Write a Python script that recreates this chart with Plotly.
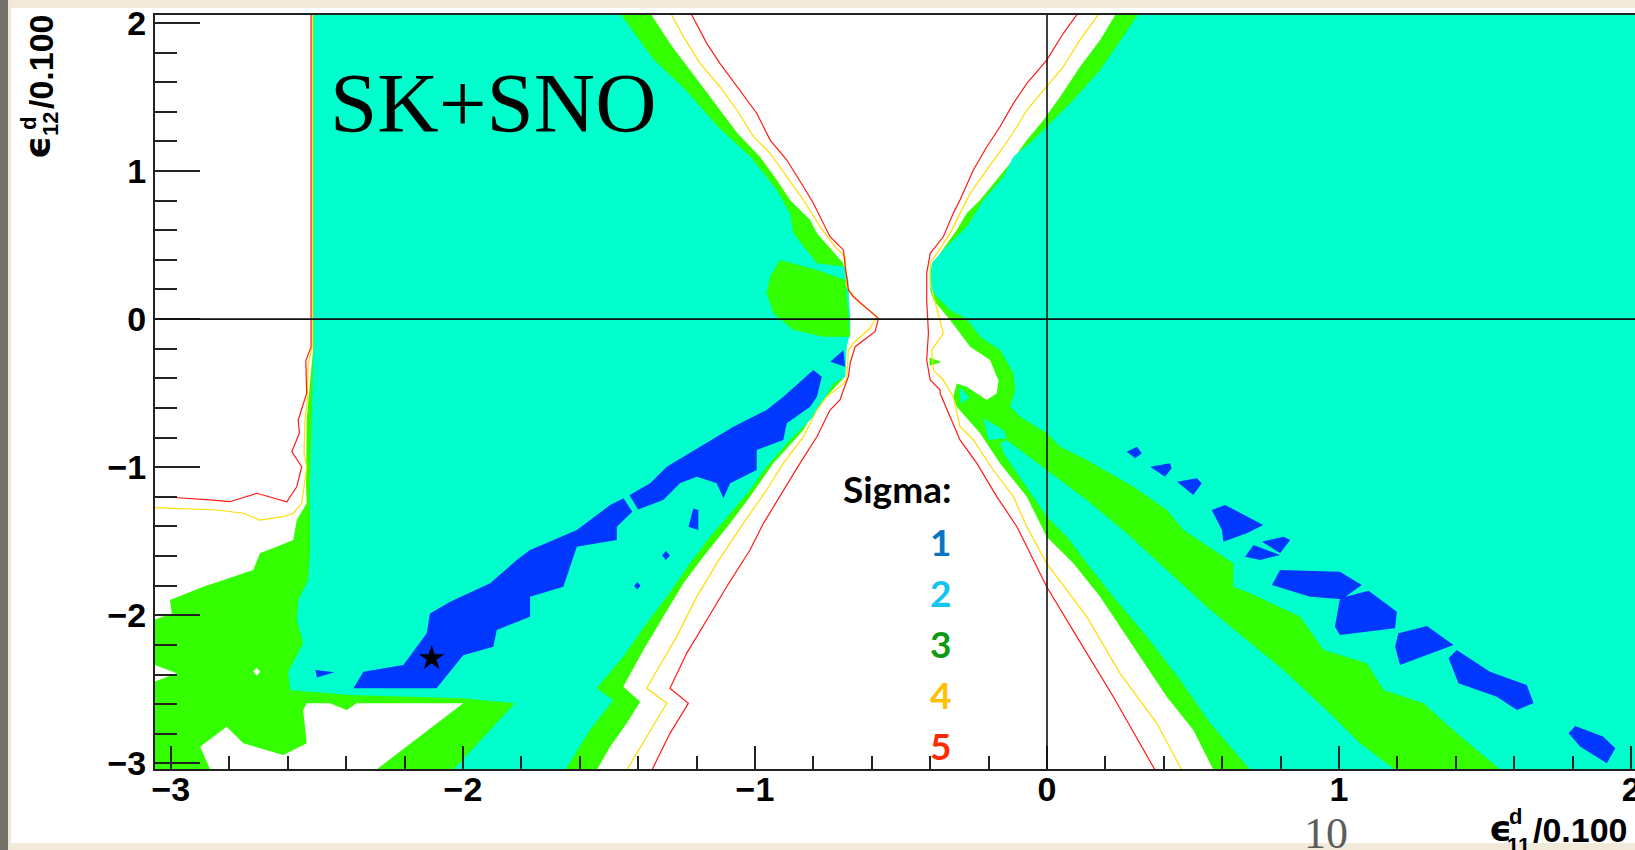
import plotly.graph_objects as go

# ---------------- contour data (axis units: eps11/0.1 , eps12/0.1) ----------------
# 3-sigma allowed region is the green background; white = excluded (>3 sigma)
white_upper_left_x = [-3.1, -2.513, -2.513, -2.535, -2.537, -2.535, -2.569, -2.581, -2.638, -2.695, -2.718, -2.889, -3.003, -2.997, -3.1]
white_upper_left_y = [2.1, 2.1, -0.2, -0.681, -1.132, -1.244, -1.357, -1.492, -1.537, -1.581, -1.694, -1.807, -1.897, -1.987, -2.06]

white_notch_x = [-3.1, -2.98, -3.1]
white_notch_y = [-2.30, -2.392, -2.482]

white_dot_x = [-2.706, -2.694, -2.706, -2.718]
white_dot_y = [-2.354, -2.381, -2.408, -2.381]

white_bottom_x = [-2.852, -2.900, -2.809, -2.752, -2.615, -2.535, -2.547, -2.535, -2.455, -2.398, -2.364, -1.999, -2.335]
white_bottom_y = [-3.1, -2.887, -2.752, -2.864, -2.943, -2.864, -2.639, -2.594, -2.594, -2.639, -2.594, -2.594, -3.1]

hourglass_left_x = [-1.37, -1.283, -1.205, -1.128, -1.060, -0.983, -0.925, -0.880, -0.811, -0.788, -0.697, -0.686, -0.674, -0.674, -0.686, -0.692, -0.788, -0.834, -0.937, -1.017, -1.085, -1.177, -1.245, -1.314, -1.382, -1.451, -1.393, -1.439, -1.496, -1.558]
hourglass_left_y = [2.1, 1.839, 1.637, 1.434, 1.255, 1.097, 0.939, 0.804, 0.669, 0.579, 0.377, 0.242, 0.016, -0.096, -0.163, -0.389, -0.591, -0.749, -0.974, -1.199, -1.379, -1.604, -1.784, -2.009, -2.234, -2.482, -2.583, -2.729, -2.887, -3.1]
hourglass_right_x = [0.584, 0.501, 0.41, 0.296, 0.182, 0.09, -0.001, -0.069, -0.161, -0.229, -0.309, -0.321, -0.309, -0.275, -0.206, -0.172, -0.166, -0.172, -0.195, -0.263, -0.332, -0.389, -0.400, -0.400, -0.366, -0.309, -0.275, -0.229, -0.172, -0.126, -0.069, -0.012, 0.045, 0.113, 0.182, 0.248]
hourglass_right_y = [-3.1, -2.774, -2.55, -2.212, -1.874, -1.649, -1.469, -1.199, -0.974, -0.771, -0.591, -0.524, -0.434, -0.456, -0.546, -0.501, -0.411, -0.389, -0.276, -0.186, -0.006, 0.129, 0.196, 0.332, 0.444, 0.602, 0.714, 0.804, 0.939, 1.052, 1.209, 1.344, 1.502, 1.704, 1.885, 2.1]

# 2-sigma regions (cyan)
cyan_left_x = [-2.511, -1.475, -1.345, -1.237, -1.127, -1.015, -0.925, -0.880, -0.868, -0.788, -0.691, -0.680, -0.674, -0.686, -0.691, -0.731, -0.800, -0.880, -0.960, -1.017, -1.074, -1.154, -1.222, -1.302, -1.371, -1.451, -1.542, -1.485, -1.565, -1.667, -2.06, -1.822, -2.0, -2.387, -2.592, -2.598, -2.547, -2.569, -2.564, -2.53, -2.524, -2.524, -2.518, -2.511]
cyan_left_y = [2.1, 2.1, 1.749, 1.547, 1.299, 1.097, 0.872, 0.714, 0.579, 0.377, 0.354, 0.264, -0.096, -0.186, -0.389, -0.434, -0.659, -0.816, -0.997, -1.154, -1.289, -1.469, -1.649, -1.874, -2.054, -2.280, -2.493, -2.572, -2.774, -3.1, -3.1, -2.594, -2.56, -2.538, -2.504, -2.381, -2.189, -2.032, -1.897, -1.762, -1.581, -1.132, -0.681, -0.2]

cyan_right_x = [0.327, 0.182, 0.09, 0.011, -0.047, -0.115, -0.149, -0.218, -0.275, -0.355, -0.395, -0.400, -0.332, -0.275, -0.229, -0.161, -0.115, -0.109, -0.126, -0.092, -0.001, 0.045, 0.136, 0.296, 0.410, 0.467, 0.638, 0.638, 0.696, 0.867, 0.947, 1.095, 1.152, 1.289, 1.403, 1.587, 2.1, 2.1]
cyan_right_y = [2.1, 1.682, 1.479, 1.322, 1.209, 1.097, 0.962, 0.804, 0.624, 0.467, 0.377, 0.196, 0.061, 0.0, -0.119, -0.209, -0.366, -0.479, -0.591, -0.659, -0.771, -0.862, -0.951, -1.132, -1.289, -1.424, -1.649, -1.807, -1.851, -2.009, -2.234, -2.324, -2.504, -2.594, -2.797, -3.1, -3.1, 2.1]

cyan_strip_x = [-0.16, -0.138, -0.001, 0.136, 0.273, 0.410, 0.547, 0.684, 0.810, 0.981, 1.072, 1.23, 0.72, 0.559, 0.456, 0.342, 0.227, 0.136, 0.068, -0.001, -0.103, -0.149]
cyan_strip_y = [-0.84, -0.816, -1.019, -1.221, -1.446, -1.694, -1.942, -2.167, -2.369, -2.685, -2.864, -3.1, -3.1, -2.729, -2.437, -2.144, -1.874, -1.649, -1.469, -1.334, -1.041, -0.906]

cyan_hole1_x = [-0.30, -0.265, -0.295]
cyan_hole1_y = [-0.46, -0.53, -0.57]
cyan_hole2_x = [-0.218, -0.149, -0.138, -0.2]
cyan_hole2_y = [-0.67, -0.749, -0.805, -0.816]

# 3-sigma pieces drawn on top of cyan
green_blob_x = [-0.914, -0.788, -0.691, -0.68, -0.674, -0.766, -0.868, -0.937, -0.960, -0.948]
green_blob_y = [0.399, 0.332, 0.264, 0.016, -0.119, -0.119, -0.074, 0.039, 0.174, 0.286]
green_tip_x = [-0.402, -0.362, -0.402]
green_tip_y = [-0.26, -0.29, -0.315]

# 1-sigma regions (blue)
blue_band_a_x = [-2.375, -2.341, -2.204, -2.124, -2.113, -2.044, -1.907, -1.816, -1.770, -1.610, -1.496, -1.45, -1.42, -1.473, -1.473, -1.610, -1.656, -1.770, -1.770, -1.884, -1.896, -1.999, -2.09]
blue_band_a_y = [-2.493, -2.381, -2.336, -2.122, -1.987, -1.908, -1.784, -1.627, -1.559, -1.424, -1.255, -1.21, -1.30, -1.402, -1.492, -1.537, -1.807, -1.874, -2.009, -2.099, -2.212, -2.27, -2.493]
blue_band_b_x = [-1.43, -1.359, -1.302, -1.188, -1.074, -0.960, -0.903, -0.8, -0.771, -0.788, -0.811, -0.891, -0.903, -0.994, -0.994, -1.085, -1.108, -1.131, -1.199, -1.257, -1.314, -1.40]
blue_band_b_y = [-1.19, -1.109, -0.997, -0.862, -0.727, -0.614, -0.524, -0.344, -0.389, -0.524, -0.591, -0.704, -0.816, -0.884, -1.019, -1.109, -1.210, -1.109, -1.064, -1.109, -1.221, -1.285]
blue_small_x = [[-0.742, -0.697, -0.691], [-1.211, -1.194, -1.194, -1.228], [-1.305, -1.291, -1.305, -1.318], [-1.403, -1.392, -1.403, -1.414], [-2.505, -2.44, -2.50]]
blue_small_y = [[-0.288, -0.209, -0.321], [-1.278, -1.289, -1.424, -1.402], [-1.564, -1.597, -1.626, -1.597], [-1.775, -1.80, -1.825, -1.80], [-2.37, -2.385, -2.42]]
blue_islands_x = [
    [0.273, 0.308, 0.325, 0.302],
    [0.353, 0.421, 0.427, 0.404],
    [0.445, 0.513, 0.530, 0.501],
    [0.564, 0.610, 0.741, 0.684, 0.604, 0.599],
    [0.736, 0.810, 0.833, 0.798],
    [0.678, 0.707, 0.798, 0.730],
    [0.798, 1.003, 1.078, 1.010, 0.901, 0.770],
    [1.003, 1.101, 1.198, 1.192, 1.003, 0.986],
    [1.203, 1.301, 1.392, 1.209, 1.192],
    [1.375, 1.403, 1.517, 1.643, 1.666, 1.609, 1.540, 1.409],
    [1.809, 1.905, 1.946, 1.917, 1.826, 1.786],
]
blue_islands_y = [
    [-0.895, -0.862, -0.906, -0.940],
    [-0.997, -0.974, -1.007, -1.064],
    [-1.098, -1.075, -1.109, -1.188],
    [-1.289, -1.255, -1.390, -1.446, -1.503, -1.424],
    [-1.503, -1.469, -1.492, -1.581],
    [-1.604, -1.525, -1.593, -1.627],
    [-1.694, -1.706, -1.795, -1.892, -1.874, -1.795],
    [-1.885, -1.834, -1.976, -2.088, -2.133, -2.077],
    [-2.122, -2.072, -2.201, -2.336, -2.212],
    [-2.29, -2.234, -2.381, -2.471, -2.594, -2.639, -2.550, -2.459],
    [-2.747, -2.820, -2.898, -2.999, -2.887, -2.797],
]

# 4-sigma (yellow) and 5-sigma (red) contour lines
red_vert_x = [-2.52, -2.52, -2.538, -2.535, -2.564, -2.56, -2.586, -2.552, -2.569, -2.603, -2.706, -2.798, -2.866, -3.003, -3.1]
red_vert_y = [2.1, -0.19, -0.28, -0.50, -0.681, -0.77, -0.895, -0.997, -1.132, -1.233, -1.176, -1.233, -1.221, -1.203, -1.2]
yel_vert_x = [-2.516, -2.516, -2.53, -2.533, -2.541, -2.544, -2.535, -2.552, -2.581, -2.615, -2.695, -2.752, -2.843, -3.1]
yel_vert_y = [2.1, -0.19, -0.3, -0.55, -0.681, -0.906, -0.997, -1.244, -1.311, -1.334, -1.357, -1.311, -1.289, -1.27]

red_left_x = [-1.229, -1.165, -1.120, -1.051, -0.994, -0.948, -0.891, -0.834, -0.800, -0.743, -0.697, -0.691, -0.680, -0.663, -0.617, -0.577, -0.589, -0.657, -0.674, -0.680, -0.697, -0.709, -0.743, -0.788, -0.846, -0.914, -0.971, -1.017, -1.097, -1.165, -1.234, -1.291, -1.228, -1.291, -1.353, -1.375]
red_left_y = [2.1, 1.862, 1.727, 1.547, 1.390, 1.209, 1.074, 0.894, 0.782, 0.556, 0.467, 0.354, 0.196, 0.151, 0.073, 0.005, -0.085, -0.186, -0.298, -0.389, -0.479, -0.546, -0.614, -0.794, -0.974, -1.199, -1.379, -1.559, -1.807, -2.032, -2.257, -2.493, -2.594, -2.797, -3.045, -3.1]
yel_left_x = [-1.298, -1.245, -1.188, -1.120, -1.062, -1.005, -0.948, -0.891, -0.834, -0.777, -0.726, -0.691, -0.686, -0.651, -0.583, -0.606, -0.663, -0.680, -0.686, -0.709, -0.754, -0.788, -0.834, -0.903, -0.960, -1.040, -1.131, -1.199, -1.268, -1.371, -1.302, -1.371, -1.439, -1.46]
yel_left_y = [2.1, 1.907, 1.727, 1.569, 1.412, 1.232, 1.120, 0.962, 0.804, 0.624, 0.489, 0.421, 0.219, 0.129, 0.016, -0.062, -0.163, -0.209, -0.411, -0.456, -0.524, -0.614, -0.794, -0.974, -1.154, -1.379, -1.649, -1.874, -2.144, -2.493, -2.594, -2.820, -3.045, -3.1]

red_right_x = [0.119, 0.056, -0.001, -0.069, -0.115, -0.161, -0.206, -0.252, -0.298, -0.321, -0.355, -0.400, -0.412, -0.412, -0.406, -0.412, -0.400, -0.366, -0.366, -0.298, -0.240, -0.172, -0.103, -0.001, 0.102, 0.227, 0.370, 0.39]
red_right_y = [2.1, 1.930, 1.749, 1.592, 1.457, 1.299, 1.164, 1.007, 0.804, 0.714, 0.556, 0.444, 0.309, 0.129, -0.096, -0.276, -0.411, -0.479, -0.501, -0.816, -0.974, -1.199, -1.402, -1.807, -2.144, -2.550, -3.045, -3.1]
yel_right_x = [0.192, 0.113, 0.056, -0.001, -0.069, -0.103, -0.149, -0.206, -0.263, -0.298, -0.332, -0.377, -0.400, -0.400, -0.355, -0.395, -0.389, -0.355, -0.321, -0.298, -0.252, -0.184, -0.115, -0.069, -0.001, 0.136, 0.250, 0.376, 0.462, 0.49]
yel_right_y = [2.1, 1.885, 1.704, 1.569, 1.412, 1.299, 1.164, 1.007, 0.849, 0.714, 0.579, 0.444, 0.377, 0.242, -0.096, -0.209, -0.344, -0.411, -0.524, -0.727, -0.816, -1.019, -1.199, -1.402, -1.649, -2.009, -2.392, -2.729, -3.045, -3.1]

best_fit_x = [-2.107]
best_fit_y = [-2.29]

x_ticks = [-3, -2, -1, 0, 1, 2]
y_ticks = [-3, -2, -1, 0, 1, 2]
sigma_labels = ["1", "2", "3", "4", "5"]

# ---------------- styling ----------------
GREEN = "#33FF00"
CYAN = "#00FFCC"
BLUE = "#0038FF"
WHITE = "#FFFFFF"
RED = "#FF1A1A"
YELLOW = "#FFDD00"
SIGMA_COLORS = ["#0A74C4", "#12C4F4", "#0E9A12", "#FFC000", "#FF2A00"]

W, H = 1635, 850
L, T, PW, PH = 155, 15, 1480, 754
XR = [-3.0544, 2.0134]
YR = [-3.0378, 2.0534]


def join(xs_list, ys_list):
    X, Y = [], []
    for xs, ys in zip(xs_list, ys_list):
        X += list(xs) + [xs[0], None]
        Y += list(ys) + [ys[0], None]
    return X, Y


fig = go.Figure()


def fill(xs, ys, color):
    fig.add_trace(go.Scatter(x=xs, y=ys, mode="lines", fill="toself", fillcolor=color,
                             line=dict(width=0, color=color), hoverinfo="skip", showlegend=False))


def line(xs, ys, color):
    fig.add_trace(go.Scatter(x=xs, y=ys, mode="lines", line=dict(width=1.2, color=color),
                             hoverinfo="skip", showlegend=False))


# background: 3-sigma green over the full frame
fill([XR[0] - 0.1, XR[1] + 0.1, XR[1] + 0.1, XR[0] - 0.1], [YR[0] - 0.1, YR[0] - 0.1, YR[1] + 0.1, YR[1] + 0.1], GREEN)

wx, wy = join([white_upper_left_x, white_notch_x, white_dot_x, white_bottom_x,
               hourglass_left_x + hourglass_right_x],
              [white_upper_left_y, white_notch_y, white_dot_y, white_bottom_y,
               hourglass_left_y + hourglass_right_y])
fill(wx, wy, WHITE)

cx, cy = join([cyan_left_x, cyan_right_x, cyan_strip_x, cyan_hole1_x, cyan_hole2_x],
              [cyan_left_y, cyan_right_y, cyan_strip_y, cyan_hole1_y, cyan_hole2_y])
fill(cx, cy, CYAN)

gx, gy = join([green_blob_x, green_tip_x], [green_blob_y, green_tip_y])
fill(gx, gy, GREEN)

bx, by = join([blue_band_a_x, blue_band_b_x] + blue_small_x + blue_islands_x,
              [blue_band_a_y, blue_band_b_y] + blue_small_y + blue_islands_y)
fill(bx, by, BLUE)

line(yel_vert_x, yel_vert_y, YELLOW)
line(red_vert_x, red_vert_y, RED)
line(yel_left_x, yel_left_y, YELLOW)
line(red_left_x, red_left_y, RED)
line(yel_right_x, yel_right_y, YELLOW)
line(red_right_x, red_right_y, RED)

fig.add_trace(go.Scatter(x=best_fit_x, y=best_fit_y, mode="markers",
                         marker=dict(symbol="star", size=19, color="black", line=dict(width=0)),
                         hoverinfo="skip", showlegend=False))


def pxx(px):
    return (px - L) / PW


def pxy(py):
    return (T + PH - py) / PH


def ann(text, px, py, size, color="black", family="Liberation Sans", weight="normal",
        xanchor="center", yanchor="middle", angle=0):
    return dict(text=text, x=pxx(px), y=pxy(py), xref="paper", yref="paper", showarrow=False,
                xanchor=xanchor, yanchor=yanchor, textangle=angle, borderpad=0,
                font=dict(family=family, size=size, color=color, weight=weight))


TITLE_FONT = "Liberation Sans, DejaVu Sans"
annotations = [
    ann("SK+SNO", 329, 103, 85, family="Liberation Serif", xanchor="left"),
    ann("Sigma:", 952, 489, 37, family="Lato", weight="bold", xanchor="right"),
    # x axis title
    ann("ϵ", 1500, 829, 36, family="DejaVu Sans", weight="bold"),
    ann("d", 1515, 816, 22, family=TITLE_FONT, weight="bold"),
    ann("11", 1518, 846, 22, family=TITLE_FONT, weight="bold"),
    ann("/0.100", 1629, 830, 34, family=TITLE_FONT, weight="bold", xanchor="right"),
    # y axis title (rotated)
    ann("ϵ", 37, 148, 36, family="DejaVu Sans", weight="bold", angle=-90),
    ann("d", 28, 124, 22, family=TITLE_FONT, weight="bold", angle=-90),
    ann("12", 50, 124, 22, family=TITLE_FONT, weight="bold", angle=-90),
    ann("/0.100", 41, 62, 34, family=TITLE_FONT, weight="bold", angle=-90),
    # slide page number
    ann("10", 1326, 833, 44, color="#5C5C5C", family="Liberation Serif"),
]
for i, (lab, col) in enumerate(zip(sigma_labels, SIGMA_COLORS)):
    annotations.append(ann(lab, 952, 541 + 51 * i, 37, color=col, family="Lato", weight="bold",
                           xanchor="right"))

shapes = [
    # slide frame
    dict(type="rect", xref="paper", yref="paper", x0=pxx(0), x1=pxx(W), y0=pxy(8), y1=pxy(0),
         fillcolor="#F1EADB", line=dict(width=0), layer="below"),
    dict(type="rect", xref="paper", yref="paper", x0=pxx(0), x1=pxx(W), y0=pxy(H), y1=pxy(843),
         fillcolor="#F1EADB", line=dict(width=0), layer="below"),
    dict(type="rect", xref="paper", yref="paper", x0=pxx(8), x1=pxx(11), y0=pxy(H), y1=pxy(0),
         fillcolor="#EEE6D6", line=dict(width=0), layer="below"),
    dict(type="rect", xref="paper", yref="paper", x0=pxx(0), x1=pxx(8), y0=pxy(H), y1=pxy(0),
         fillcolor="#74716B", line=dict(width=0), layer="below"),
    # axes through the origin
    dict(type="line", xref="x", yref="paper", x0=0, x1=0, y0=0, y1=1,
         line=dict(color="#111111", width=1.6), layer="above"),
    dict(type="line", xref="paper", yref="y", x0=0, x1=1, y0=0, y1=0,
         line=dict(color="#111111", width=1.6), layer="above"),
]

tickfont = dict(family="Liberation Sans", size=34, color="black", weight="bold")
fig.update_layout(
    width=W, height=H, autosize=False,
    margin=dict(l=L, r=W - L - PW, t=T, b=H - T - PH, pad=0, autoexpand=False),
    paper_bgcolor="white", plot_bgcolor="white",
    showlegend=False,
    annotations=annotations, shapes=shapes,
    xaxis=dict(range=XR, tickvals=x_ticks, ticks="inside", ticklen=23, tickwidth=1.6,
               tickcolor="#222", showline=True, linecolor="#222", linewidth=2, mirror=True,
               showgrid=False, zeroline=False, tickfont=tickfont, layer="above traces",
               ticklabelstandoff=-11, ticklabeloverflow="allow", automargin=False,
               minor=dict(dtick=0.2, tick0=0, ticks="inside", ticklen=13, tickwidth=1.6,
                          tickcolor="#222", showgrid=False)),
    yaxis=dict(range=YR, tickvals=y_ticks, ticks="inside", ticklen=45, tickwidth=1.6,
               tickcolor="#222", showline=True, linecolor="#222", linewidth=2, mirror=False,
               showgrid=False, zeroline=False, tickfont=tickfont, layer="above traces",
               ticklabelstandoff=0, ticklabeloverflow="allow", automargin=False,
               minor=dict(dtick=0.2, tick0=0, ticks="inside", ticklen=22, tickwidth=1.6,
                          tickcolor="#222", showgrid=False)),
)

fig.write_html("out.html")
